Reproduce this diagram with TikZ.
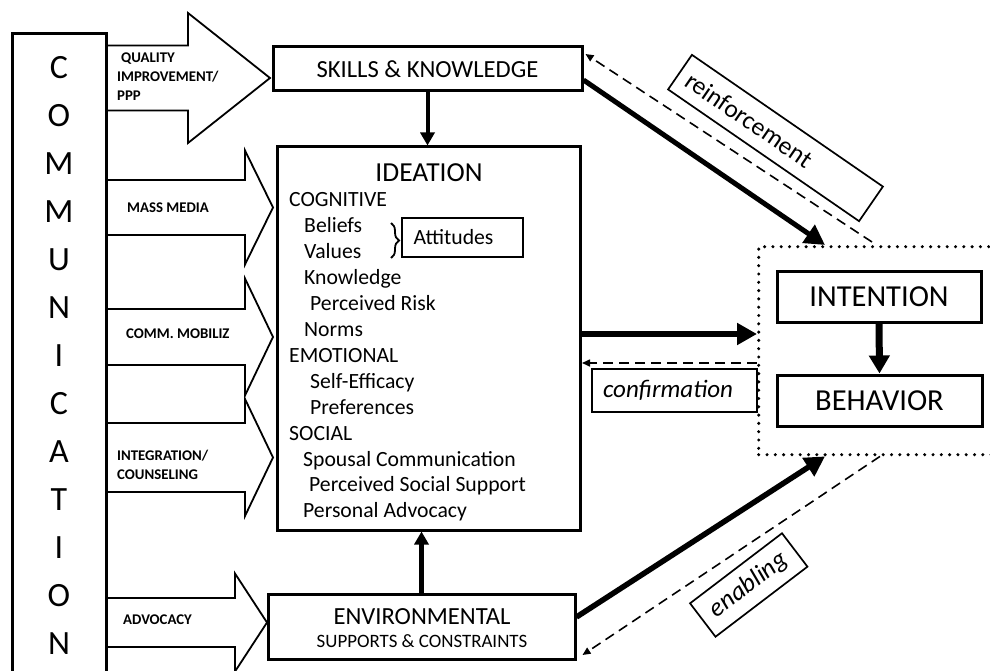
\documentclass[tikz,border=0pt]{standalone}
\usepackage{fontspec}
\setmainfont{Carlito}
\usetikzlibrary{arrows.meta,calc,decorations.pathreplacing}

\newcommand\fsz[2]{\fontsize{#1}{#2}\selectfont}
% block arrow: centre y, half body, half head, shaft end x, tip x
\newcommand\blockarr[5]{%
  \draw[blk] (106,#1-#2) -- (#4,#1-#2) -- (#4,#1-#3) -- (#5,#1)
    -- (#4,#1+#3) -- (#4,#1+#2) -- (106,#1+#2);}

\begin{document}
\begin{tikzpicture}[x=1pt,y=-1pt,
  box/.style={draw,line width=3pt,inner sep=0pt},
  thinbox/.style={draw,line width=1.7pt,inner sep=0pt},
  blk/.style={line width=1.8pt,line join=miter},
  lbl/.style={inner sep=0pt,font=\fsz{14.8}{19}\bfseries,align=left,anchor=west},
  itm/.style={inner sep=0pt,font=\fsz{21.7}{25},anchor=base west},
  letter/.style={inner sep=0pt,font=\fsz{34}{34}},
  bigarrow/.style={line width=#1,-{Triangle[length=20pt,width=21pt]}},
  smallarrow/.style={line width=#1,-{Triangle[length=13pt,width=14pt]}},
  feedback/.style={line width=1.6pt,dash pattern=on 10pt off 6pt,
    -{Triangle[length=8pt,width=7pt]}},
  dotframe/.style={draw,line width=3.4pt,line cap=round,
    dash pattern=on 0pt off 8.3pt,inner sep=0pt}
]
\useasboundingbox (0,0) rectangle (990,671);

% communication column
\draw[line width=3pt] (12,690) -- (12,33.5) -- (106,33.5) -- (106,690);
\foreach \ch [count=\i] in {C,O,M,M,U,N,I,C,A,T,I,O,N}
  \node[letter] (l\i) at (59,{68+48*(\i-1)}) {\ch};

% channel arrows
\blockarr{78}{32.5}{65}{188}{270}
\blockarr{207.5}{27.5}{57}{245}{273}
\blockarr{337}{28}{58.5}{245}{273}
\blockarr{457.5}{34.5}{58.5}{245}{273}
\blockarr{622.5}{24.5}{49}{235}{267}
\node[lbl] (qual) at (117,77) {\hspace*{4pt}QUALITY\\IMPROVEMENT/\\PPP};
\node[lbl] (mass) at (127,208) {MASS MEDIA};
\node[lbl] (mob) at (126,334) {COMM. MOBILIZ};
\node[lbl] (integ) at (117,465) {INTEGRATION/\\COUNSELING};
\node[lbl] (advo) at (123,620) {ADVOCACY};

% main boxes
\node[box,minimum width=309pt,minimum height=44pt,font=\fsz{24.6}{24}]
  (skills) at (427.5,69) {SKILLS \& KNOWLEDGE};
\node[box,minimum width=303.5pt,minimum height=383pt] (ideation) at (428.75,338.5) {};
\node[box,minimum width=307pt,minimum height=65pt] (env) at (421.5,626.5) {};
\node[inner sep=0pt,anchor=base,font=\fsz{24.6}{24}] (envt) at (422,624) {ENVIRONMENTAL};
\node[inner sep=0pt,anchor=base,font=\fsz{18.9}{18.9}] (envs) at (422,647) {SUPPORTS \& CONSTRAINTS};

% ideation contents
\node[inner sep=0pt,anchor=base,font=\fsz{27.5}{27}] (idt) at (429,182) {IDEATION};
\node[itm] (cog)  at (289,207)   {COGNITIVE};
\node[itm] (bel)  at (304,232.9) {Beliefs};
\node[itm] (val)  at (304,258.8) {Values};
\node[itm] (kno)  at (304,284.7) {Knowledge};
\node[itm] (risk) at (310,310.6) {Perceived Risk};
\node[itm] (nor)  at (304,336.5) {Norms};
\node[itm] (emo)  at (289,362.4) {EMOTIONAL};
\node[itm] (eff)  at (310,388.3) {Self-Efficacy};
\node[itm] (pref) at (310,414.2) {Preferences};
\node[itm] (soc)  at (289,440.1) {SOCIAL};
\node[itm] (spo)  at (303,466)   {Spousal Communication};
\node[itm] (pss)  at (309,491.9) {Perceived Social Support};
\node[itm] (padv) at (303,517.8) {Personal Advocacy};
\node[draw,line width=2pt,inner sep=0pt,minimum width=121pt,minimum height=39pt,
  font=\fsz{21.7}{21}] (att) at (462.5,237.5) {Attitudes\hspace*{18pt}};
\draw[line width=1.8pt,decorate,decoration={brace,amplitude=8pt}]
  ($(att.west)+(-10,-14.5)$) -- ($(att.west)+(-10,20.5)$);

% outcome frame and boxes
\node[dotframe,anchor=north west,minimum width=260pt,minimum height=208pt]
  (tgt) at (757,245) {};
\node[box,minimum width=204pt,minimum height=51pt,font=\fsz{30.5}{30}]
  (intention) at (879,296.5) {INTENTION};
\node[box,minimum width=205pt,minimum height=51pt,font=\fsz{30.5}{30}]
  (behavior) at (879.5,400.5) {BEHAVIOR};

% labels on the feedback paths
\node[thinbox,minimum width=232pt,minimum height=42pt,rotate=-34.6,font=\fsz{25.5}{25}\upshape]
  (reinf) at (775.5,138) {reinforcement\hspace*{64pt}};
\node[thinbox,minimum width=165pt,minimum height=43pt,font=\fsz{25}{25}\itshape]
  (conf) at (674.5,390.5) {confirmation\hspace*{13pt}};
\node[thinbox,minimum width=115.6pt,minimum height=42pt,rotate=37.3,font=\fsz{26}{25}\itshape]
  (enab) at (748.75,585) {enabling};

% causal connectors
\draw[smallarrow=4pt] (skills.south) -- (skills.south |- ideation.north);
\draw[smallarrow=5pt] (env.north) -- (env.north |- ideation.south);
\draw[bigarrow=6pt] ([yshift=4.5pt]ideation.east) -- ([yshift=4.5pt]ideation.east -| tgt.west);
\draw[line width=7pt,-{Triangle[length=18pt,width=20pt]}] (intention.south) -- (behavior.north);
\draw[bigarrow=5pt] ([yshift=-11pt]skills.east) -- ($(tgt.north west)+(68,0)$);
\draw[bigarrow=5.5pt] ([yshift=9.5pt]env.east) -- ($(tgt.south west)+(68,0)$);

% feedback connectors
\draw[feedback] ($(tgt.north west)+(115,-3)$) -- ([yshift=15pt,xshift=2pt]skills.east);
\draw[feedback] ([yshift=-24.5pt]ideation.east -| tgt.west) -- ([yshift=-24.5pt]ideation.east);
\draw[feedback] ($(tgt.south west)+(123,0)$) -- ([yshift=-28.5pt,xshift=6pt]env.east);
\end{tikzpicture}
\end{document}
